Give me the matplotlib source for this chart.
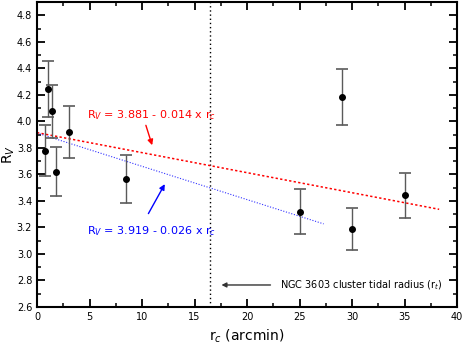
import matplotlib
matplotlib.use("Agg")
import matplotlib.pyplot as plt
import numpy as np
from matplotlib.ticker import MultipleLocator

# Data
rc = [0.76, 1.02, 1.43, 1.84, 3.0, 8.5, 25.0, 29.0, 30.0, 35.0]
rv = [3.78, 4.245, 4.075, 3.62, 3.92, 3.565, 3.32, 4.185, 3.19, 3.444]
rv_err = [0.19, 0.21, 0.20, 0.185, 0.195, 0.18, 0.17, 0.21, 0.16, 0.17]

red_fit = dict(intercept=3.915, slope=-0.0151, xmax=38.3)
blue_fit = dict(intercept=3.912, slope=-0.0251, xmax=27.3)
tidal_radius = 16.5

xlim = (0, 40)
ylim = (2.6, 4.9)

fig = plt.figure(figsize=(4.63, 3.51), dpi=100)
ax = fig.add_axes([37/463, 1-307/351, (457-37)/463, (307-2)/351])

ax.errorbar(rc, rv, yerr=rv_err, fmt='o', color='black', ms=4,
            ecolor='#5a5a5a', elinewidth=1.0, capsize=4.5, capthick=1.2, zorder=3)

xr = np.linspace(0, red_fit['xmax'], 100)
ax.plot(xr, red_fit['intercept'] + red_fit['slope']*xr, color='red', lw=1.1,
        linestyle=(0, (1.5, 1.5)), zorder=2)
xb = np.linspace(0, blue_fit['xmax'], 100)
ax.plot(xb, blue_fit['intercept'] + blue_fit['slope']*xb, color='blue', lw=0.8,
        linestyle=(0, (1, 1.5)), alpha=0.8, zorder=2)

ax.axvline(tidal_radius, color='black', lw=1.0, linestyle=(0, (1, 2)), zorder=1)

ax.text(4.76, 4.047, r'R$_V$ = 3.881 - 0.014 x r$_c$', color='red', fontsize=8, va='center', ha='left')
ax.annotate('', xy=(11.05, 3.80), xytext=(10.29, 3.99),
            arrowprops=dict(arrowstyle='-|>', color='red', lw=1.0, mutation_scale=8))
ax.text(4.76, 3.173, r'R$_V$ = 3.919 - 0.026 x r$_c$', color='blue', fontsize=8, va='center', ha='left')
ax.annotate('', xy=(12.3, 3.545), xytext=(10.48, 3.286),
            arrowprops=dict(arrowstyle='-|>', color='blue', lw=1.0, mutation_scale=8))

ax.text(23.1, 2.766, r'NGC 3603 cluster tidal radius (r$_t$)', color='black', fontsize=7, va='center', ha='left')
ax.annotate('', xy=(17.3, 2.766), xytext=(22.5, 2.766),
            arrowprops=dict(arrowstyle='-|>', color='#333333', lw=1.0, mutation_scale=7))

ax.set_xlim(*xlim)
ax.set_ylim(*ylim)
ax.xaxis.set_minor_locator(MultipleLocator(2.5))
ax.yaxis.set_minor_locator(MultipleLocator(0.1))
ax.tick_params(which='both', direction='in', top=True, right=True, labelsize=7)
ax.tick_params(which='major', length=6, width=1.3)
ax.tick_params(which='minor', length=3, width=1.1)
ax.set_xticks(np.arange(0, 41, 5))
ax.set_xticklabels([str(v) for v in range(0, 41, 5)])
yt = np.round(np.arange(2.6, 4.81, 0.2), 1)
ax.set_yticks(yt)
ax.set_yticklabels([f'{v:.1f}' for v in yt])
for s in ax.spines.values():
    s.set_linewidth(1.5)

ax.set_xlabel(r'r$_c$ (arcmin)', fontsize=10, labelpad=4)
ax.set_ylabel(r'R$_V$', fontsize=10)
ax.yaxis.set_label_coords(-0.048, 0.5)

fig.savefig('out.png', dpi=100)
